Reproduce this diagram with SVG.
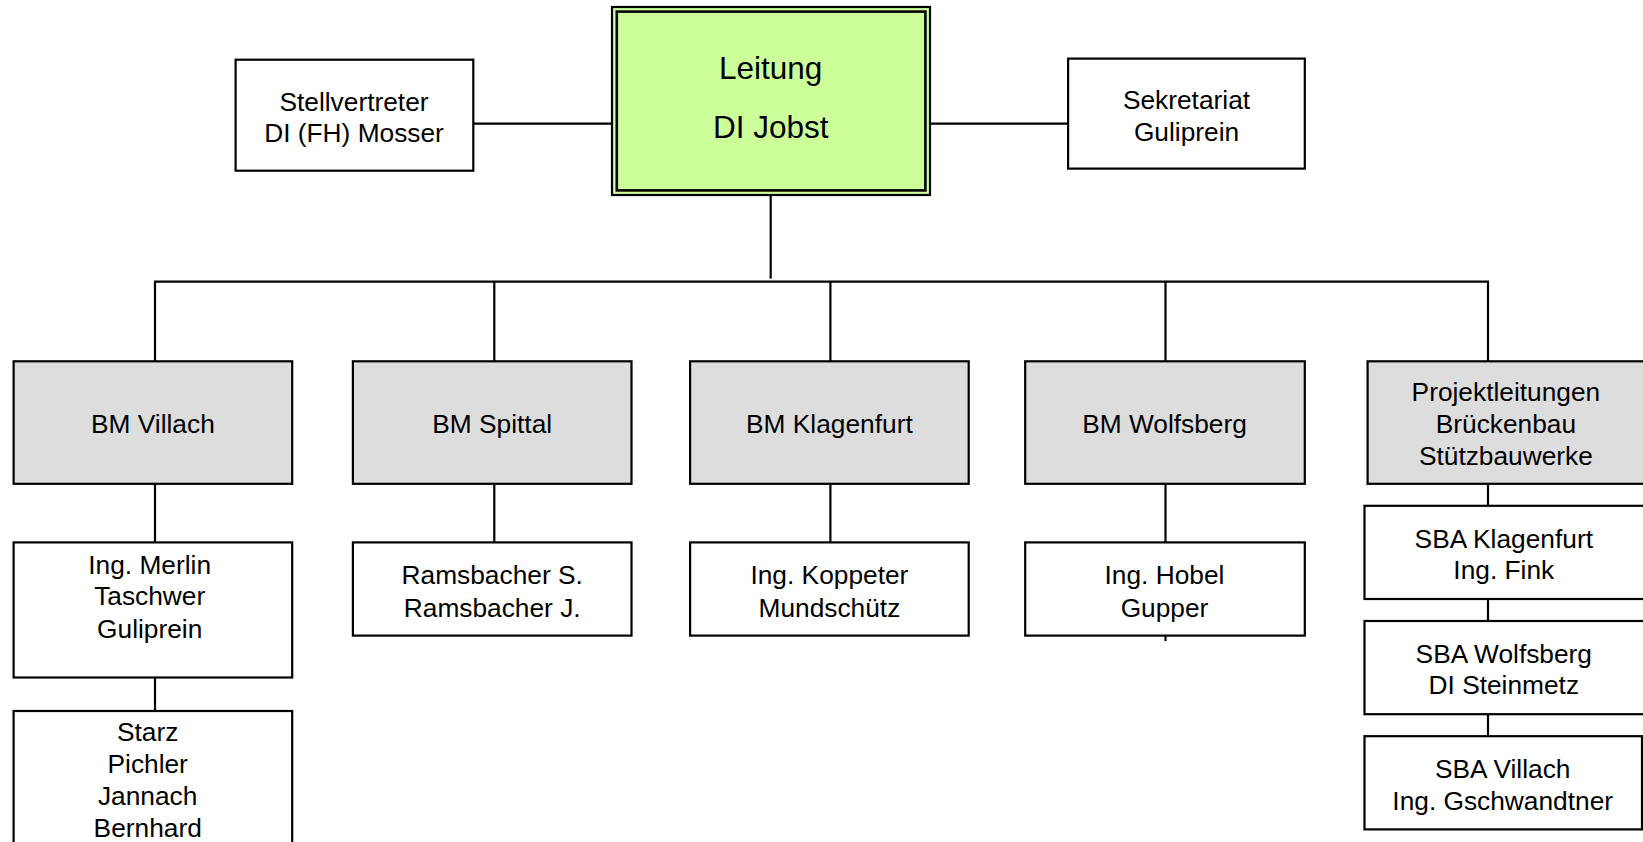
<svg xmlns="http://www.w3.org/2000/svg" width="1643" height="842" viewBox="0 0 1643 842">
<style>
.b{fill:#fff;stroke:#000;stroke-width:2.2}
.g{fill:#ddd;stroke:#000;stroke-width:2.2}
.t{font-family:"Liberation Sans",Arial,sans-serif;font-size:26.3px;text-anchor:middle;fill:#000}
.lt{font-family:"Liberation Sans",Arial,sans-serif;font-size:31.5px;text-anchor:middle;fill:#000}
.c line{stroke:#000;stroke-width:2.2}
</style>
<rect width="1643" height="842" fill="#fff"/>
<g class="c" id="connectors">
<line x1="473" y1="123.6" x2="612" y2="123.6"/>
<line x1="930" y1="123.6" x2="1068" y2="123.6"/>
<line x1="770.7" y1="195" x2="770.7" y2="278.6"/>
<line x1="154" y1="281.7" x2="1489" y2="281.7"/>
<line x1="155" y1="281.7" x2="155" y2="361.3"/>
<line x1="494.3" y1="281.7" x2="494.3" y2="361.3"/>
<line x1="830.4" y1="281.7" x2="830.4" y2="361.3"/>
<line x1="1165.5" y1="281.7" x2="1165.5" y2="361.3"/>
<line x1="1488" y1="281.7" x2="1488" y2="361.3"/>
<line x1="155" y1="483.8" x2="155" y2="542.4"/>
<line x1="494.3" y1="483.8" x2="494.3" y2="542.4"/>
<line x1="830.4" y1="483.8" x2="830.4" y2="542.4"/>
<line x1="1165.5" y1="483.8" x2="1165.5" y2="542.4"/>
<line x1="1165.5" y1="635.7" x2="1165.5" y2="641"/>
<line x1="155" y1="677.5" x2="155" y2="711"/>
<line x1="1488" y1="483.8" x2="1488" y2="505.8"/>
<line x1="1488" y1="599" x2="1488" y2="621"/>
<line x1="1488" y1="714.2" x2="1488" y2="736.2"/>
</g>
<g id="leitung">
<rect x="612" y="7" width="318" height="188" fill="#ccff99" stroke="#000" stroke-width="2.2"/>
<rect x="616.8" y="11.6" width="308.6" height="178.8" fill="none" stroke="#000" stroke-width="2.6"/>
<text class="lt" x="770.7" y="78.5">Leitung</text>
<text class="lt" x="770.7" y="138.2">DI Jobst</text>
</g>
<g id="stellvertreter">
<rect class="b" x="235.6" y="59.7" width="237.7" height="111"/>
<text class="t" x="354" y="111">Stellvertreter</text>
<text class="t" x="354" y="142.4">DI (FH) Mosser</text>
</g>
<g id="sekretariat">
<rect class="b" x="1068.1" y="58.6" width="236.7" height="110"/>
<text class="t" x="1186.5" y="108.9">Sekretariat</text>
<text class="t" x="1186.5" y="141.4">Guliprein</text>
</g>
<g id="bm-villach">
<rect class="g" x="13.6" y="361.3" width="278.6" height="122.5"/>
<text class="t" x="152.9" y="432.5">BM Villach</text>
</g>
<g id="bm-spittal">
<rect class="g" x="352.9" y="361.3" width="278.6" height="122.5"/>
<text class="t" x="492.2" y="432.5">BM Spittal</text>
</g>
<g id="bm-klagenfurt">
<rect class="g" x="690.1" y="361.3" width="278.6" height="122.5"/>
<text class="t" x="829.4" y="432.5">BM Klagenfurt</text>
</g>
<g id="bm-wolfsberg">
<rect class="g" x="1025.2" y="361.3" width="279.6" height="122.5"/>
<text class="t" x="1164.5" y="432.5">BM Wolfsberg</text>
</g>
<g id="projektleitungen">
<rect class="g" x="1367.6" y="361.3" width="278" height="122.5"/>
<text class="t" x="1505.9" y="401.1">Projektleitungen</text>
<text class="t" x="1505.9" y="432.5">Brückenbau</text>
<text class="t" x="1505.9" y="465">Stützbauwerke</text>
</g>
<g id="villach-team">
<rect class="b" x="13.6" y="542.4" width="278.6" height="135.1"/>
<text class="t" x="149.7" y="573.9">Ing. Merlin</text>
<text class="t" x="149.7" y="605.3">Taschwer</text>
<text class="t" x="149.7" y="637.7">Guliprein</text>
</g>
<g id="villach-staff">
<rect class="b" x="13.6" y="711" width="278.6" height="185"/>
<text class="t" x="147.7" y="741.4">Starz</text>
<text class="t" x="147.7" y="772.8">Pichler</text>
<text class="t" x="147.7" y="805.3">Jannach</text>
<text class="t" x="147.7" y="836.7">Bernhard</text>
</g>
<g id="spittal-team">
<rect class="b" x="352.9" y="542.4" width="278.6" height="93.2"/>
<text class="t" x="492.2" y="584.3">Ramsbacher S.</text>
<text class="t" x="492.2" y="616.8">Ramsbacher J.</text>
</g>
<g id="klagenfurt-team">
<rect class="b" x="690.1" y="542.4" width="278.6" height="93.2"/>
<text class="t" x="829.4" y="584.3">Ing. Koppeter</text>
<text class="t" x="829.4" y="616.8">Mundschütz</text>
</g>
<g id="wolfsberg-team">
<rect class="b" x="1025.2" y="542.4" width="279.6" height="93.2"/>
<text class="t" x="1164.5" y="584.3">Ing. Hobel</text>
<text class="t" x="1164.5" y="616.8">Gupper</text>
</g>
<g id="sba-klagenfurt">
<rect class="b" x="1364.5" y="505.8" width="280" height="93.2"/>
<text class="t" x="1503.8" y="547.7">SBA Klagenfurt</text>
<text class="t" x="1503.8" y="579.1">Ing. Fink</text>
</g>
<g id="sba-wolfsberg">
<rect class="b" x="1364.5" y="621" width="280" height="93.2"/>
<text class="t" x="1503.8" y="662.9">SBA Wolfsberg</text>
<text class="t" x="1503.8" y="694.3">DI Steinmetz</text>
</g>
<g id="sba-villach">
<rect class="b" x="1364.5" y="736.2" width="277.5" height="93.2"/>
<text class="t" x="1502.7" y="778.1">SBA Villach</text>
<text class="t" x="1502.7" y="809.5">Ing. Gschwandtner</text>
</g>
</svg>
